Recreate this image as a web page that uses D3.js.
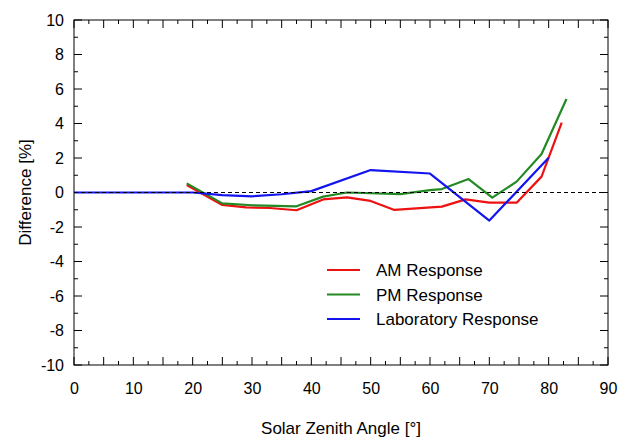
<!DOCTYPE html>
<html>
<head>
<meta charset="utf-8">
<script src="https://cdn.jsdelivr.net/npm/d3@7"></script>
<style>
  body { margin: 0; background: #fff; }
  svg { font-family: Arial, "Liberation Sans", sans-serif; }
</style>
</head>
<body>
<div id="chart"></div>
<script>
// Data
const seriesNames = ["AM Response", "PM Response", "Laboratory Response"];
const seriesColors = ["#ee1111", "#238a23", "#1414ee"];

const amAngle = [19, 25, 29, 33, 37.5, 42, 46, 50, 54, 62, 66, 70, 74.6, 78.8, 82.2];
const amDiff = [0.43, -0.72, -0.86, -0.9, -1.03, -0.4, -0.28, -0.49, -1.01, -0.82, -0.4, -0.59, -0.59, 0.92, 4.05];

const pmAngle = [19, 25, 30, 37.5, 42, 46, 55, 60, 62, 66.5, 70.5, 74.6, 78.8, 83];
const pmDiff = [0.53, -0.63, -0.74, -0.8, -0.24, 0, -0.09, 0.14, 0.2, 0.78, -0.3, 0.63, 2.23, 5.42];

const labAngle = [0, 20, 25, 30, 35, 40, 50, 60, 70, 80];
const labDiff = [0, 0, -0.15, -0.22, -0.1, 0.08, 1.3, 1.1, -1.63, 2.02];

const xTicks = [0, 10, 20, 30, 40, 50, 60, 70, 80, 90];
const yTicks = [-10, -8, -6, -4, -2, 0, 2, 4, 6, 8, 10];

// Layout
const width = 625;
const height = 448;
const margin = { top: 20, right: 17, bottom: 83, left: 74 };
const innerW = width - margin.left - margin.right;
const innerH = height - margin.top - margin.bottom;

const svg = d3.select("#chart")
    .append("svg")
    .attr("width", width)
    .attr("height", height);

const g = svg.append("g")
    .attr("transform", `translate(${margin.left},${margin.top})`);

const x = d3.scaleLinear().domain([0, 90]).range([0, innerW]);
const y = d3.scaleLinear().domain([-10, 10]).range([innerH, 0]);

// minor / medium ticks (every 2.5 on x, every 1 on y)
const xMinor = d3.range(0, 90.01, 2.5);
const yMinor = d3.range(-10, 10.01, 1);

function tickLen(v, step) {
    return Math.abs(v / step - Math.round(v / step)) < 1e-6 ? 8 : 4;
}

// frame
g.append("rect")
    .attr("width", innerW)
    .attr("height", innerH)
    .attr("fill", "none")
    .attr("stroke", "#000")
    .attr("stroke-width", 1);

// ticks inside on all four sides
const tickG = g.append("g").attr("stroke", "#000").attr("stroke-width", 1);
xMinor.forEach((v) => {
    const L = tickLen(v, 5);
    tickG.append("line").attr("x1", x(v)).attr("x2", x(v)).attr("y1", innerH).attr("y2", innerH - L);
    tickG.append("line").attr("x1", x(v)).attr("x2", x(v)).attr("y1", 0).attr("y2", L);
});
yMinor.forEach((v) => {
    const L = tickLen(v, 2);
    tickG.append("line").attr("y1", y(v)).attr("y2", y(v)).attr("x1", 0).attr("x2", L);
    tickG.append("line").attr("y1", y(v)).attr("y2", y(v)).attr("x1", innerW).attr("x2", innerW - L);
});

// tick labels via axes (plain hyphen for negatives, as in the original)
const fmt = (d) => String(d);

const xAxis = d3.axisBottom(x).tickValues(xTicks).tickFormat(fmt).tickSize(0).tickPadding(18);
const gx = g.append("g").attr("transform", `translate(0,${innerH})`).call(xAxis);
gx.select(".domain").remove();
gx.selectAll("text").attr("font-size", 16).attr("fill", "#000").attr("font-family", "Arial, 'Liberation Sans', sans-serif");

const yAxis = d3.axisLeft(y).tickValues(yTicks).tickFormat(fmt).tickSize(0).tickPadding(10);
const gy = g.append("g").call(yAxis);
gy.select(".domain").remove();
gy.selectAll("text").attr("font-size", 16).attr("fill", "#000").attr("font-family", "Arial, 'Liberation Sans', sans-serif");

// series lines
const line = d3.line().x((d) => x(d[0])).y((d) => y(d[1]));
const series = [
    d3.zip(amAngle, amDiff),
    d3.zip(pmAngle, pmDiff),
    d3.zip(labAngle, labDiff)
];

g.selectAll(".series")
    .data(series)
    .join("path")
    .attr("class", "series")
    .attr("d", line)
    .attr("fill", "none")
    .attr("stroke", (d, i) => seriesColors[i])
    .attr("stroke-width", 2.2)
    .attr("stroke-linejoin", "round");

// zero reference line
g.append("line")
    .attr("x1", x(0))
    .attr("x2", x(90))
    .attr("y1", y(0))
    .attr("y2", y(0))
    .attr("stroke", "#000")
    .attr("stroke-width", 1)
    .attr("stroke-dasharray", "4,3");

// legend
const legendY = [270, 294.5, 319];
const legend = svg.append("g");
seriesNames.forEach((name, i) => {
    legend.append("line")
        .attr("x1", 327).attr("x2", 360)
        .attr("y1", legendY[i]).attr("y2", legendY[i])
        .attr("stroke", seriesColors[i])
        .attr("stroke-width", 2.2);
    legend.append("text")
        .attr("x", 376)
        .attr("y", legendY[i])
        .attr("dy", "0.36em")
        .attr("font-size", 17)
        .text(name);
});

// axis titles
svg.append("text")
    .attr("x", margin.left + innerW / 2)
    .attr("y", 434)
    .attr("text-anchor", "middle")
    .attr("font-size", 17)
    .text("Solar Zenith Angle [°]");

svg.append("text")
    .attr("transform", `translate(31,${margin.top + innerH / 2}) rotate(-90)`)
    .attr("text-anchor", "middle")
    .attr("font-size", 17)
    .text("Difference [%]");
</script>
</body>
</html>
